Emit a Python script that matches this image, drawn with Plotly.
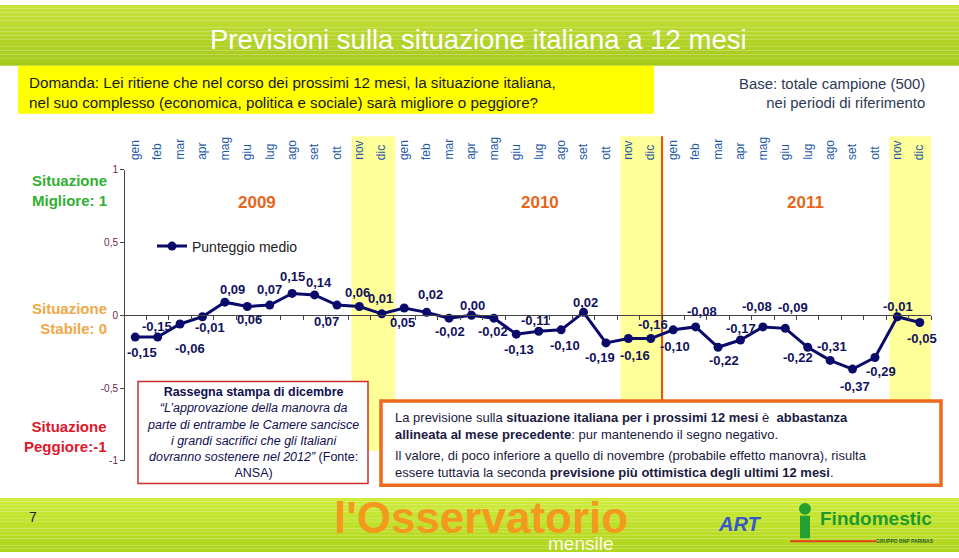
import plotly.graph_objects as go

# ---------------- data ----------------
months = ["gen", "feb", "mar", "apr", "mag", "giu", "lug", "ago", "set", "ott", "nov", "dic"]
years = ["2009", "2010", "2011"]
values_2009 = [-0.15, -0.15, -0.06, -0.01, 0.09, 0.06, 0.07, 0.15, 0.14, 0.07, 0.06, 0.01]
values_2010 = [0.05, 0.02, -0.02, 0.00, -0.02, -0.13, -0.11, -0.10, 0.02, -0.19, -0.16, -0.16]
values_2011 = [-0.10, -0.08, -0.22, -0.17, -0.08, -0.09, -0.22, -0.31, -0.37, -0.29, -0.01, -0.05]
series_name = "Punteggio medio"
y_tick_vals = [-1, -0.5, 0, 0.5, 1]
y_tick_text = ["-1", "-0,5", "0", "0,5", "1"]
highlight_months = ["nov", "dic"]

# label offsets in pixels from each point (style only): dx right, dy down
label_dx = [7, -1, 10, 8, 8, 2, 0, 0, 4, -10, -2, -1,
            -2, 4, 1, 1, -1, 3, -3, 4, 2, -6, 7, 2,
            2, 6, 6, 1, -6, 8, -10, 2, 2, 6, 1, 2]
label_dy = [15, -11, 25, 11, -13, 13, -16, -17, -12, 16, -14, -15,
            15, -18, 13, -10, 13, 15, -11, 16, -10, 15, 17, -14,
            17, -15, 13, -12, -20, -21, 10, -14, 17, 14, -10, 16]

W, H = 959, 558
FONT = "Liberation Sans, Arial, sans-serif"


def px(x):
    return x / W


def py(y):
    return 1 - y / H


values = values_2009 + values_2010 + values_2011
all_months = months * len(years)
xs = list(range(len(values)))
labels = [("%.2f" % v).replace(".", ",") for v in values]

fig = go.Figure()
fig.add_trace(go.Scatter(
    x=xs, y=values, mode="lines+markers", name=series_name,
    line=dict(color="#0a0a6a", width=3),
    marker=dict(color="#0a0a6a", size=9),
    showlegend=True,
))

shapes = []
# top title band (gradient by stripes)
N = 16
for k in range(N):
    t = k / (N - 1)
    c1 = (200, 226, 60)
    c2 = (166, 202, 28)
    col = "rgb(%d,%d,%d)" % tuple(int(c1[j] + (c2[j] - c1[j]) * t) for j in range(3))
    shapes.append(dict(type="rect", xref="paper", yref="paper", x0=0, x1=1,
                       y0=py(62 * (k + 1) / N), y1=py(62 * k / N), fillcolor=col, line=dict(width=0),
                       layer="below"))
# footer band
for k in range(N):
    t = k / (N - 1)
    c1 = (206, 236, 60)
    c2 = (176, 214, 30)
    col = "rgb(%d,%d,%d)" % tuple(int(c1[j] + (c2[j] - c1[j]) * t) for j in range(3))
    y0p = 503 + 55 * k / N
    y1p = 503 + 55 * (k + 1) / N
    shapes.append(dict(type="rect", xref="paper", yref="paper", x0=0, x1=1,
                       y0=py(y1p), y1=py(y0p), fillcolor=col, line=dict(width=0), layer="below"))
# question box
shapes.append(dict(type="rect", xref="paper", yref="paper", x0=px(18), x1=px(654), y0=py(111), y1=py(62),
                   fillcolor="#ffff00", line=dict(width=0), layer="below"))
# highlighted months bands
for yi in range(len(years)):
    i0 = yi * 12 + months.index(highlight_months[0])
    i1 = yi * 12 + months.index(highlight_months[-1])
    shapes.append(dict(type="rect", xref="x", yref="paper", x0=i0 - 0.35, x1=i1 + 0.6,
                       y0=py(455), y1=py(134), fillcolor="#ffff99", line=dict(width=0), layer="below"))
# red separator between 2010 and 2011
shapes.append(dict(type="line", xref="x", yref="paper", x0=23.5, x1=23.5, y0=py(404), y1=py(134),
                   line=dict(color="#e01010", width=1.5), layer="below"))
# Rassegna box
shapes.append(dict(type="rect", xref="paper", yref="paper", x0=px(138), x1=px(368), y0=py(488), y1=py(384),
                   fillcolor="white", line=dict(color="#c83030", width=1.5), layer="above"))
# orange comment box
shapes.append(dict(type="rect", xref="paper", yref="paper", x0=px(381), x1=px(941), y0=py(490), y1=py(404),
                   fillcolor="white", line=dict(color="#ee6a1c", width=3.5), layer="above"))
# Findomestic figure (decorative)
shapes.append(dict(type="line", xref="paper", yref="paper", x0=px(790), x1=px(876), y0=py(547), y1=py(547),
                   line=dict(color="#e2401a", width=2)))
shapes.append(dict(type="circle", xref="paper", yref="paper", x0=px(799), x1=px(811), y0=py(520), y1=py(508),
                   fillcolor="#22a030", line=dict(width=0)))
shapes.append(dict(type="rect", xref="paper", yref="paper", x0=px(800), x1=px(810), y0=py(544), y1=py(521),
                   fillcolor="#22a030", line=dict(width=0)))

ann = []


def add(text, x, y, size, color, xanchor="center", yanchor="middle", align="center", xref="paper",
        yref="paper", **kw):
    ann.append(dict(text=text, x=x, y=y, xref=xref, yref=yref, xanchor=xanchor, yanchor=yanchor,
                    align=align, showarrow=False, font=dict(family=FONT, size=size, color=color), **kw))


# data labels
for i, (v, lab) in enumerate(zip(values, labels)):
    add("<b>%s</b>" % lab, xs[i], v, 13, "#12125e", xref="x", yref="y",
        xshift=label_dx[i], yshift=-label_dy[i])

# title
add("Previsioni sulla situazione italiana a 12 mesi", px(478), py(35), 27.5, "white")
add("Domanda: Lei ritiene che nel corso dei prossimi 12 mesi, la situazione italiana,<br>"
    "nel suo complesso (economica, politica e sociale) sarà migliore o peggiore?",
    px(27), py(89), 15.2, "#1a1a1a", xanchor="left", align="left")
add("Base: totale campione (500)<br>nei periodi di riferimento",
    px(927), py(90), 14.9, "#2e3a55", xanchor="right", align="right")
# month labels
for i, m in enumerate(all_months):
    add(m, i, py(160), 12, "#1e5aa8", yanchor="bottom", xref="x", textangle=-90)
# year labels
for yr, xp in zip(years, [257, 540, 805]):
    add("<b>%s</b>" % yr, px(xp), py(201), 17, "#e8661a")
# left side labels
add("<b>Situazione<br>Migliore: 1</b>", px(109), py(189), 15, "#30b030", xanchor="right", align="right")
add("<b>Situazione<br>Stabile: 0</b>", px(109), py(320), 15, "#f0a848", xanchor="right", align="right")
add("<b>Situazione<br>Peggiore:-1</b>", px(109), py(440), 15, "#e0182c", xanchor="right", align="right")
# Rassegna stampa box
add("<b>Rassegna stampa di dicembre</b><br><i>“L’approvazione della manovra da</i><br>"
    "<i>parte di entrambe le Camere sancisce</i><br><i>i grandi sacrifici che gli Italiani</i><br>"
    "<i>dovranno sostenere nel 2012”</i> (Fonte:<br>ANSA)",
    px(253), py(436), 12.5, "#101050")
# orange box text
add("La previsione sulla <b>situazione italiana per i prossimi 12 mesi</b> è  <b>abbastanza</b><br>"
    "<b>allineata al mese precedente</b>: pur mantenendo il segno negativo.",
    px(393), py(429.5), 13, "#1a1a40", xanchor="left", align="left")
add("Il valore, di poco inferiore a quello di novembre (probabile effetto manovra), risulta<br>"
    "essere tuttavia la seconda <b>previsione più ottimistica degli ultimi 12 mesi</b>.",
    px(393), py(468.5), 13, "#1a1a40", xanchor="left", align="left")
# footer
add("7", px(33), py(522), 14, "#222")
add("<b>l'Osservatorio</b>", px(481), py(523), 44, "#f39a1e")
add("mensile", px(580), py(549), 19, "#fff8e8")
add("<b><i>ART</i></b>", px(740), py(529), 20, "#3458c8")
add("<b>Findomestic</b>", px(876), py(524), 19, "#1f9a2a")
add("<b>GRUPPO BNP PARIBAS</b>", px(905), py(547), 5, "#1f5a2a")

y_dom = [py(465), py(168)]
fig.update_layout(
    width=W, height=H, autosize=False,
    margin=dict(l=0, r=0, t=0, b=0),
    paper_bgcolor="white", plot_bgcolor="rgba(0,0,0,0)",
    shapes=shapes, annotations=ann,
    font=dict(family=FONT),
    xaxis=dict(domain=[px(124), px(931)], range=[-0.5, 35.5], anchor="free",
               position=(y_dom[0] + y_dom[1]) / 2, showline=True, linecolor="#444", linewidth=1,
               ticks="outside", ticklen=4, tickcolor="#444", tickvals=[i + 0.5 for i in range(-1, 36)],
               showticklabels=False, showgrid=False, zeroline=False, fixedrange=True),
    yaxis=dict(domain=y_dom, range=[-1, 1], anchor="free", position=px(124), showline=True,
               linecolor="#444", linewidth=1, ticks="outside", ticklen=4, tickcolor="#444",
               tickvals=y_tick_vals, ticktext=y_tick_text,
               tickfont=dict(family=FONT, size=10, color="#6a1f4f"),
               showgrid=False, zeroline=False, fixedrange=True),
    legend=dict(x=px(152), y=py(230), xanchor="left", yanchor="top", bgcolor="rgba(0,0,0,0)",
                font=dict(family=FONT, size=14, color="#222"), itemwidth=30),
    showlegend=True,
)

fig.write_html("out.html")
